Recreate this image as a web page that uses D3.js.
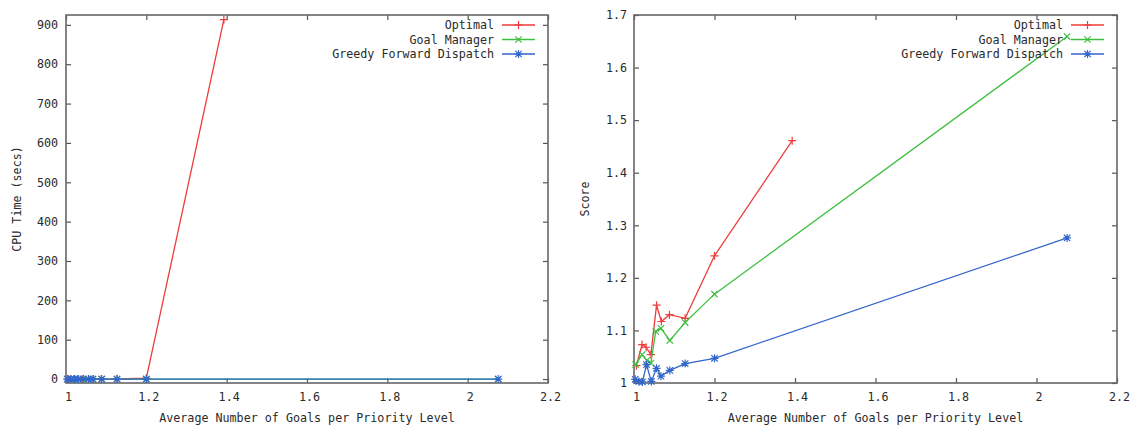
<!DOCTYPE html>
<html>
<head>
<meta charset="utf-8">
<script src="https://cdn.jsdelivr.net/npm/d3@7"></script>
<style>
  body { margin: 0; background: #fff; }
  svg text { font-family: "DejaVu Sans Mono", monospace; font-size: 11.7px; fill: #2a2a2a; }
  .tick line { stroke: #555; stroke-width: 1.2; }
</style>
</head>
<body>
<div id="chart"></div>
<script>
"use strict";

// values
const seriesNames = ["Optimal", "Goal Manager", "Greedy Forward Dispatch"];
const seriesColors = ["#ee3b3b", "#3fbf3f", "#3366cc"];
const seriesMarkers = ["plus", "cross", "star"];

const optimalX = [1.006, 1.02, 1.03, 1.042, 1.056, 1.068, 1.088, 1.127, 1.2, 1.393];
const optimalCpu = [0, 0, 0, 0, 0, 0, 0, 0.5, 2.5, 913];
const optimalScore = [1.033, 1.073, 1.068, 1.054, 1.148, 1.117, 1.13, 1.123, 1.242, 1.461];

const goalManagerX = [1.004, 1.02, 1.032, 1.042, 1.054, 1.067, 1.089, 1.127, 1.2, 2.076];
const goalManagerCpu = [0, 0, 0, 0, 0, 0, 0, 0, 0, 0];
const goalManagerScore = [1.035, 1.054, 1.043, 1.038, 1.098, 1.104, 1.081, 1.115, 1.169, 1.659];

const greedyX = [1.003, 1.012, 1.021, 1.031, 1.043, 1.056, 1.067, 1.089, 1.127, 1.2, 2.076];
const greedyCpu = [0, 0, 0, 0, 0, 0, 0, 0, 0, 0, 0];
const greedyScore = [1.007, 1.003, 1.002, 1.035, 1.003, 1.028, 1.013, 1.024, 1.037, 1.047, 1.276];

const xTicks = [1, 1.2, 1.4, 1.6, 1.8, 2, 2.2];
const xTickLabels = ["1", "1.2", "1.4", "1.6", "1.8", "2", "2.2"];
const cpuTicks = [0, 100, 200, 300, 400, 500, 600, 700, 800, 900];
const scoreTicks = [1, 1.1, 1.2, 1.3, 1.4, 1.5, 1.6, 1.7];
const scoreTickLabels = ["1", "1.1", "1.2", "1.3", "1.4", "1.5", "1.6", "1.7"];

const xTitle = "Average Number of Goals per Priority Level";

let width = 1133, height = 425;

let svg = d3.select("#chart").append("svg")
  .attr("width", width)
  .attr("height", height);

// gnuplot style point shapes, drawn as strokes
function markerPath(type, s) {
  let plus = "M" + (-s) + ",0H" + s + "M0," + (-s) + "V" + s;
  let c = s * 0.8;
  let cross = "M" + (-c) + "," + (-c) + "L" + c + "," + c + "M" + (-c) + "," + c + "L" + c + "," + (-c);
  if (type === "plus") return plus;
  if (type === "cross") return cross;
  return plus + cross;
}

function drawPanel(opts) {
  let g = svg.append("g");

  let x = d3.scaleLinear()
    .domain([1, 2.2])
    .range([opts.left, opts.right]);

  let y = d3.scaleLinear()
    .domain(opts.yDomain)
    .range([opts.bottom, opts.top]);

  // ticks on all four sides, pointing inward
  g.append("g")
    .attr("transform", "translate(0," + opts.bottom + ")")
    .call(d3.axisBottom(x).tickValues(xTicks).tickSize(-5).tickPadding(10)
      .tickFormat((d, i) => xTickLabels[i]))
    .call(a => a.select(".domain").remove())
    .call(a => a.selectAll("text").attr("dx", 2));

  g.append("g")
    .attr("transform", "translate(0," + opts.top + ")")
    .call(d3.axisTop(x).tickValues(xTicks).tickSize(-5).tickFormat(""))
    .call(a => a.select(".domain").remove());

  g.append("g")
    .attr("transform", "translate(" + opts.left + ",0)")
    .call(d3.axisLeft(y).tickValues(opts.yTicks).tickSize(-5).tickPadding(opts.yPad)
      .tickFormat((d, i) => opts.yTickLabels[i]))
    .call(a => a.select(".domain").remove());

  g.append("g")
    .attr("transform", "translate(" + opts.right + ",0)")
    .call(d3.axisRight(y).tickValues(opts.yTicks).tickSize(-5).tickFormat(""))
    .call(a => a.select(".domain").remove());

  g.selectAll(".tick text").attr("fill", "#2a2a2a");

  // plot border
  g.append("rect")
    .attr("x", opts.left)
    .attr("y", opts.top)
    .attr("width", opts.right - opts.left)
    .attr("height", opts.bottom - opts.top)
    .attr("fill", "none")
    .attr("stroke", "#666")
    .attr("stroke-width", 1.6);

  let line = d3.line()
    .x(d => x(d[0]))
    .y(d => y(d[1]));

  opts.series.forEach((s, k) => {
    let pts = s.xs.map((v, i) => [v, s.ys[i]]);

    g.append("path")
      .datum(pts)
      .attr("d", line)
      .attr("fill", "none")
      .attr("stroke", seriesColors[k])
      .attr("stroke-width", 1.3);

    g.selectAll(".pt" + k)
      .data(pts)
      .enter().append("path")
      .attr("class", "pt" + k)
      .attr("transform", d => "translate(" + x(d[0]) + "," + y(d[1]) + ")")
      .attr("d", markerPath(seriesMarkers[k], 4))
      .attr("fill", "none")
      .attr("stroke", seriesColors[k])
      .attr("stroke-width", 1.2);
  });

  // legend, top right inside the box
  let legendY = [25, 39.5, 54];
  seriesNames.forEach((name, k) => {
    g.append("text")
      .attr("x", opts.right - 54)
      .attr("y", legendY[k])
      .attr("dy", "0.35em")
      .attr("text-anchor", "end")
      .text(name);

    g.append("line")
      .attr("x1", opts.right - 46)
      .attr("x2", opts.right - 13)
      .attr("y1", legendY[k])
      .attr("y2", legendY[k])
      .attr("stroke", seriesColors[k])
      .attr("stroke-width", 1.3);

    g.append("path")
      .attr("transform", "translate(" + (opts.right - 29.5) + "," + legendY[k] + ")")
      .attr("d", markerPath(seriesMarkers[k], 4))
      .attr("fill", "none")
      .attr("stroke", seriesColors[k])
      .attr("stroke-width", 1.2);
  });

  g.append("text")
    .attr("x", (opts.left + opts.right) / 2)
    .attr("y", 418)
    .attr("dy", "0.35em")
    .attr("text-anchor", "middle")
    .text(xTitle);

  g.append("text")
    .attr("transform", "translate(" + opts.yTitleX + "," + (opts.top + opts.bottom) / 2 + ") rotate(-90)")
    .attr("dy", "0.35em")
    .attr("text-anchor", "middle")
    .text(opts.yTitle);
}

drawPanel({
  left: 66, right: 548, top: 15, bottom: 383,
  yDomain: [-10, 925],
  yTicks: cpuTicks,
  yTickLabels: cpuTicks.map(String),
  yPad: 8,
  yTitle: "CPU Time (secs)",
  yTitleX: 17,
  series: [
    { xs: optimalX, ys: optimalCpu },
    { xs: goalManagerX, ys: goalManagerCpu },
    { xs: greedyX, ys: greedyCpu }
  ]
});

drawPanel({
  left: 634, right: 1117, top: 15, bottom: 383,
  yDomain: [1, 1.7],
  yTicks: scoreTicks,
  yTickLabels: scoreTickLabels,
  yPad: 7,
  yTitle: "Score",
  yTitleX: 585,
  series: [
    { xs: optimalX, ys: optimalScore },
    { xs: goalManagerX, ys: goalManagerScore },
    { xs: greedyX, ys: greedyScore }
  ]
});
</script>
</body>
</html>
